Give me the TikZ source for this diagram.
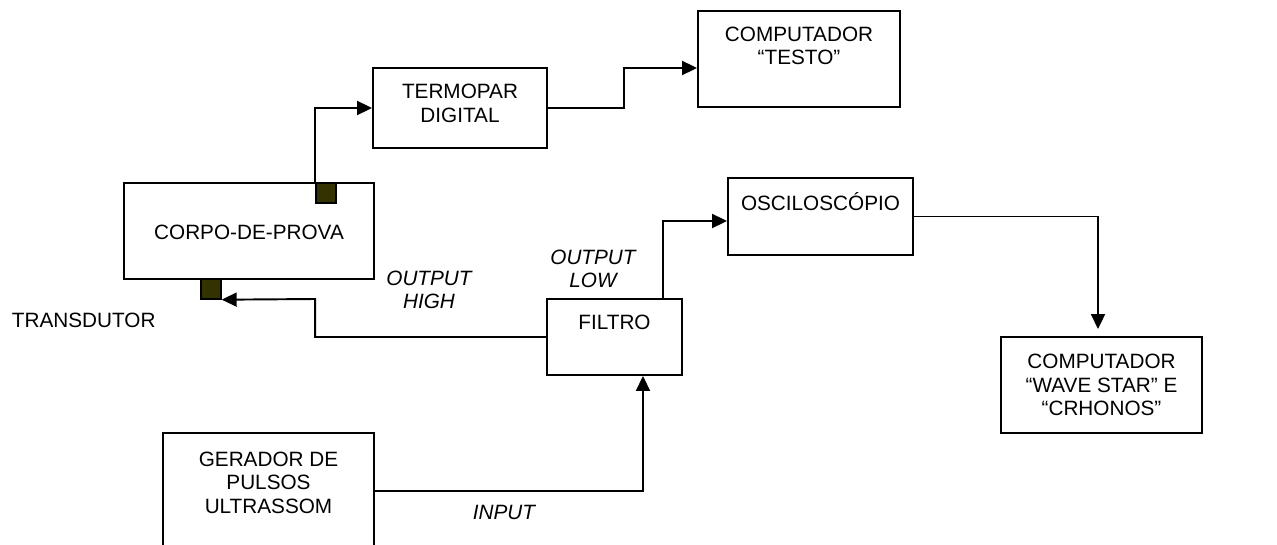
\documentclass[tikz,border=0pt]{standalone}
\usepackage{fontspec}
\setmainfont{Liberation Sans}
\usetikzlibrary{arrows.meta}
\definecolor{sensor}{RGB}{51,51,0}
\begin{document}
\begin{tikzpicture}[x=0.02cm, y=-0.02cm, line width=1.1pt,
    font=\fontsize{11.8}{13.4}\selectfont,
    box/.style={draw=black, rectangle, inner sep=0pt},
    sq/.style={draw=black, fill=sensor, line width=0.8pt, inner sep=0pt, minimum size=0.4cm},
    txt/.style={align=center, inner sep=0pt},
    rot/.style={align=center, inner sep=0pt, font=\fontsize{11.8}{13.4}\selectfont\itshape},
    seta/.style={-{Triangle[length=0.3cm, width=0.28cm]}}]
    \useasboundingbox (0,0) rectangle (1277,544);
    \clip (0,0) rectangle (1277,544);

    % Caixas
    \node[box, minimum width=3.48cm, minimum height=1.6cm] (termopar) at (460,108) {};
    \node[txt] (termopartxt) at (460,103.5) {TERMOPAR\\DIGITAL};
    \node[box, minimum width=4.04cm, minimum height=1.92cm] (testo) at (799,59) {};
    \node[txt] (testotxt) at (799,46) {COMPUTADOR\\“TESTO”};
    \node[box, minimum width=5cm, minimum height=1.92cm] (corpo) at (249,231) {};
    \node[txt] (corpotxt) at (249,232) {CORPO-DE-PROVA};
    \node[box, minimum width=2.7cm, minimum height=1.52cm] (filtro) at (614.5,337) {};
    \node[txt] (filtrotxt) at (614.5,322) {FILTRO};
    \node[box, minimum width=3.7cm, minimum height=1.54cm] (oscil) at (820.5,216.5) {};
    \node[txt] (osciltxt) at (820.5,202) {OSCILOSCÓPIO};
    \node[box, minimum width=4.02cm, minimum height=1.92cm] (wave) at (1101.5,385) {};
    \node[txt] (wavetxt) at (1101.5,385) {COMPUTADOR\\“WAVE STAR” E\\“CRHONOS”};
    \node[box, minimum width=4.22cm, minimum height=2.32cm] (gerador) at (268.5,491) {};
    \node[txt] (geradortxt) at (268.5,482.5) {GERADOR DE\\PULSOS\\ULTRASSOM};

    % Transdutores
    \node[sq] (sqtopo) at (326,193) {};
    \node[sq] (sqbase) at (211,289) {};
    \node[txt, anchor=west] (transdutor) at (11,320) {TRANSDUTOR};

    % Ligacoes
    \draw[seta] (sqtopo.north west) |- (termopar.west);
    \draw[seta] (termopar.east) -- ++(76,0) |- ([yshift=-0.18cm]testo.west);
    \draw[seta] (filtro.west) -| ++(-231,-38) -- (sqbase.south east);
    \draw[seta] ([xshift=-0.4cm]filtro.north east) |- ([yshift=-0.09cm]oscil.west);
    \draw[seta, shorten >=0.14cm] (oscil.east) -| ([xshift=-0.07cm]wave.north);
    \draw[seta] (gerador.east) -| ([xshift=0.57cm]filtro.south);

    % Rotulos
    \node[rot] (high) at (429,290) {OUTPUT\\HIGH};
    \node[rot] (low) at (593,269) {OUTPUT\\LOW};
    \node[rot] (input) at (504,512) {INPUT};
\end{tikzpicture}
\end{document}
